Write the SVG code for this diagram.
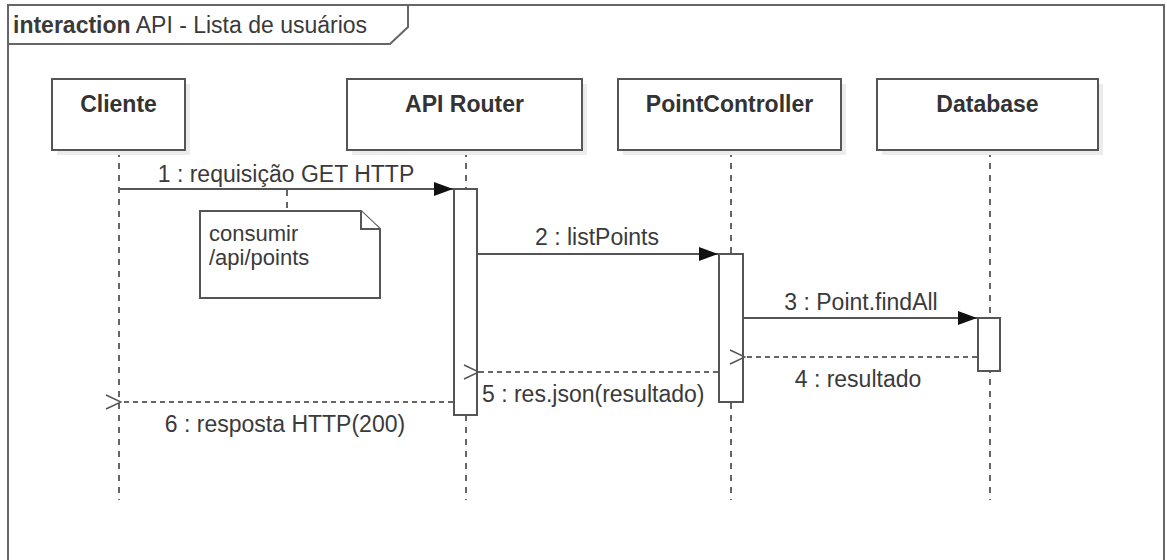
<svg xmlns="http://www.w3.org/2000/svg" width="1167" height="560" viewBox="0 0 1167 560">
<style>
.frame{fill:none;stroke:#666;stroke-width:2}
.box{fill:#fff;stroke:#555;stroke-width:2}
.shadow{fill:#ececec}
.life{stroke:#333;stroke-width:1.5;stroke-dasharray:6 6;fill:none}
.act{fill:#fff;stroke:#555;stroke-width:2}
.msg{stroke:#555;stroke-width:2;fill:none}
.ret{stroke:#666;stroke-width:2;stroke-dasharray:5 4;fill:none}
.lbl{font-family:"Liberation Sans",Arial,sans-serif;font-size:23px;fill:#3a3a3a}
.ntxt{font-family:"Liberation Sans",Arial,sans-serif;font-size:22px;fill:#3a3a3a}
.name{font-family:"Liberation Sans",Arial,sans-serif;font-size:23px;font-weight:bold;fill:#333;text-anchor:middle}
.note{fill:#fff;stroke:#555;stroke-width:2}
</style>
<defs>
<marker id="filled" markerWidth="20" markerHeight="16" refX="19" refY="8" orient="auto" markerUnits="userSpaceOnUse">
<path d="M0,1 L19,8 L0,15 Z" fill="#111"/>
</marker>
<marker id="open" markerWidth="18" markerHeight="16" refX="1" refY="8" orient="auto" markerUnits="userSpaceOnUse">
<path d="M16,1 L1,8 L16,15" fill="none" stroke="#555" stroke-width="1.5"/>
</marker>
</defs>
<rect width="1167" height="560" fill="#fff"/>
<g id="frame">
<path class="frame" d="M8,565 L8,5 L1164,5 L1164,565"/>
<path class="frame" d="M8,44 L390,44 L408,27 L408,5"/>
<text class="lbl" x="13" y="33" font-size="23.5"><tspan font-weight="bold">interaction</tspan> API - Lista de usuários</text>
</g>
<g id="lifelines">
<line class="life" x1="119" y1="151" x2="119" y2="500"/>
<line class="life" x1="466" y1="151" x2="466" y2="500"/>
<line class="life" x1="731" y1="151" x2="731" y2="500"/>
<line class="life" x1="990" y1="151" x2="990" y2="500"/>
</g>
<g id="cliente">
<rect class="shadow" x="57" y="84" width="133" height="71"/>
<rect class="box" x="52" y="79" width="133" height="71"/>
<text class="name" x="118.5" y="112">Cliente</text>
</g>
<g id="api-router">
<rect class="shadow" x="352" y="84" width="235" height="71"/>
<rect class="box" x="347" y="79" width="235" height="71"/>
<text class="name" x="464.5" y="112">API Router</text>
</g>
<g id="point-controller">
<rect class="shadow" x="623" y="84" width="223" height="71"/>
<rect class="box" x="618" y="79" width="223" height="71"/>
<text class="name" x="729.5" y="112">PointController</text>
</g>
<g id="database">
<rect class="shadow" x="882" y="84" width="221" height="71"/>
<rect class="box" x="877" y="79" width="221" height="71"/>
<text class="name" x="987.5" y="112">Database</text>
</g>
<g id="activations">
<rect class="act" x="454" y="189" width="23" height="226"/>
<rect class="act" x="719" y="254" width="24" height="148"/>
<rect class="act" x="978" y="318" width="22" height="53"/>
</g>
<g id="note">
<line class="life" x1="287" y1="190" x2="287" y2="211"/>
<path class="note" d="M200,211 L361,211 L380,229 L380,298 L200,298 Z"/>
<path class="note" d="M361,211 L361,229 L380,229" fill="none"/>
<text class="ntxt" x="209" y="241">consumir</text>
<text class="ntxt" x="209" y="265">/api/points</text>
</g>
<g id="connectors">
<line class="msg" x1="120" y1="189" x2="453" y2="189" marker-end="url(#filled)"/>
<text class="lbl" x="286" y="182" text-anchor="middle">1 : requisição GET HTTP</text>
<line class="msg" x1="477" y1="254" x2="718" y2="254" marker-end="url(#filled)"/>
<text class="lbl" x="597" y="245" text-anchor="middle">2 : listPoints</text>
<line class="msg" x1="743" y1="318" x2="977" y2="318" marker-end="url(#filled)"/>
<text class="lbl" x="861" y="310" text-anchor="middle">3 : Point.findAll</text>
<line class="ret" x1="977" y1="357" x2="745" y2="357" marker-end="url(#open)"/>
<text class="lbl" x="858" y="387" text-anchor="middle">4 : resultado</text>
<line class="ret" x1="718" y1="372" x2="479" y2="372" marker-end="url(#open)"/>
<text class="lbl" x="482" y="402">5 : res.json(resultado)</text>
<line class="ret" x1="453" y1="402" x2="121" y2="402" marker-end="url(#open)"/>
<text class="lbl" x="285" y="432" text-anchor="middle">6 : resposta HTTP(200)</text>
</g>
</svg>
